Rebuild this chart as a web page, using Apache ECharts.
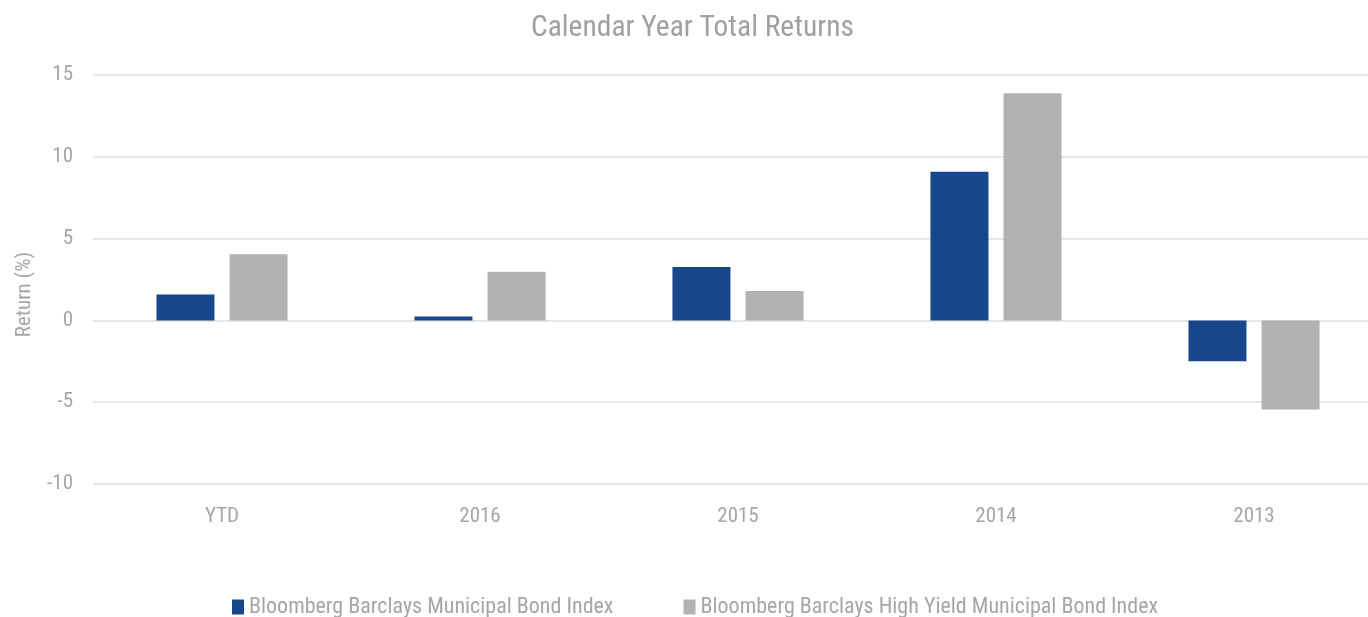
<!DOCTYPE html>
<html>
<head>
<meta charset="utf-8">
<script src="https://cdn.jsdelivr.net/npm/echarts@6/dist/echarts.min.js"></script>
<style>
  html, body { margin: 0; padding: 0; background: #fff; }
  #chart { width: 1368px; height: 617px; }
</style>
</head>
<body>
<div id="chart"></div>
<script>
const categories = ["YTD", "2016", "2015", "2014", "2013"];
const muniReturns = [1.59, 0.24, 3.27, 9.08, -2.5];
const highYieldReturns = [4.04, 2.97, 1.8, 13.88, -5.45];
const seriesNames = [
  "Bloomberg Barclays Municipal Bond Index",
  "Bloomberg Barclays High Yield Municipal Bond Index"
];

const font = '"Liberation Sans Narrow", "Roboto Condensed", "Arial Narrow", Roboto, sans-serif';
const textGray = "#a6a6a6";

const chart = echarts.init(document.getElementById("chart"));
chart.setOption({
  animation: false,
  title: {
    text: "Calendar Year Total Returns",
    left: 526,
    top: 9,
    textStyle: { color: "#a0a0a0", fontSize: 29.5, fontWeight: "normal", fontFamily: font }
  },
  legend: {
    bottom: -6,
    left: 227,
    itemWidth: 12,
    itemHeight: 15,
    itemGap: 70,
    icon: "rect",
    textStyle: { color: textGray, fontSize: 22, fontFamily: font },
    data: seriesNames
  },
  // grid runs a little past the right edge so the categories are spaced as in the source
  grid: { left: 93, width: 1290, top: 75, bottom: 133, outerBoundsMode: "none" },
  xAxis: {
    type: "category",
    data: categories,
    axisLine: { show: false },
    axisTick: { show: false },
    axisLabel: { color: textGray, fontSize: 21, fontFamily: font, margin: 22 }
  },
  yAxis: {
    type: "value",
    min: -10,
    max: 15,
    interval: 5,
    name: "Return (%)",
    nameLocation: "middle",
    nameGap: 58,
    nameTextStyle: { color: textGray, fontSize: 21, fontFamily: font, padding: [0, 0, 0, -30] },
    axisLine: { show: false },
    axisTick: { show: false },
    axisLabel: { color: textGray, fontSize: 21, fontFamily: font, margin: 20 },
    splitLine: { lineStyle: { color: "#e6e6e6", width: 2 } }
  },
  series: [
    {
      name: seriesNames[0],
      type: "bar",
      data: muniReturns,
      barWidth: 58,
      barGap: "26%",
      itemStyle: { color: "#17468b" }
    },
    {
      name: seriesNames[1],
      type: "bar",
      data: highYieldReturns,
      barWidth: 58,
      itemStyle: { color: "#b2b2b2" }
    }
  ]
});
</script>
</body>
</html>
